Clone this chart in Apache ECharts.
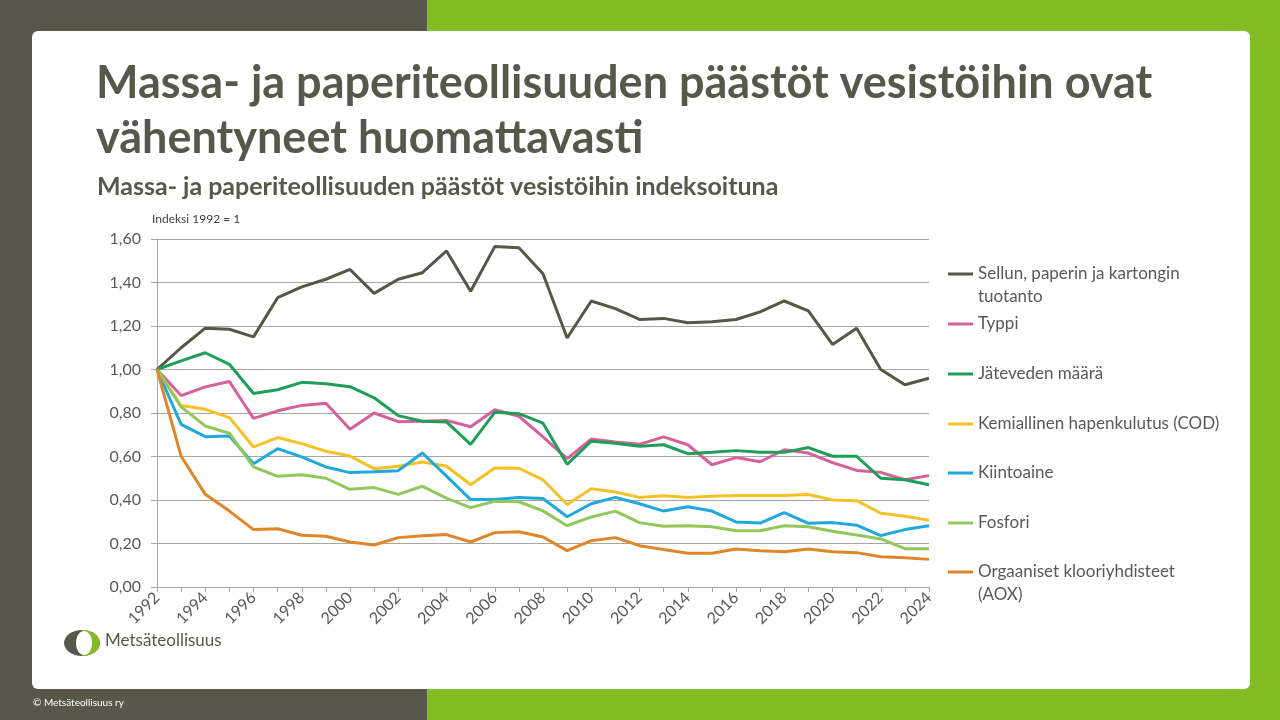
<!DOCTYPE html>
<html>
<head>
<meta charset="utf-8">
<script src="https://cdn.jsdelivr.net/npm/echarts@6/dist/echarts.min.js"></script>
<style>
html,body{margin:0;padding:0;width:1280px;height:720px;overflow:hidden;}
#c{width:1280px;height:720px;}
</style>
</head>
<body>
<div id="c"></div>
<script>
const years = ['1992','1993','1994','1995','1996','1997','1998','1999','2000','2001','2002','2003','2004','2005','2006','2007','2008','2009','2010','2011','2012','2013','2014','2015','2016','2017','2018','2019','2020','2021','2022','2023','2024'];
const seriesNames = ['Sellun, paperin ja kartongin tuotanto','Typpi','Jäteveden määrä','Kemiallinen hapenkulutus (COD)','Kiintoaine','Fosfori','Orgaaniset klooriyhdisteet (AOX)'];
const tuotanto = [1.00,1.10,1.19,1.185,1.15,1.33,1.38,1.415,1.46,1.35,1.415,1.445,1.545,1.36,1.565,1.56,1.44,1.145,1.315,1.28,1.23,1.235,1.215,1.22,1.23,1.265,1.315,1.27,1.115,1.19,1.00,0.93,0.96];
const typpi = [1.00,0.88,0.92,0.945,0.775,0.81,0.835,0.845,0.725,0.80,0.76,0.762,0.766,0.737,0.815,0.785,0.69,0.59,0.68,0.667,0.656,0.69,0.654,0.562,0.595,0.576,0.631,0.616,0.572,0.536,0.527,0.493,0.512];
const jatevesi = [1.00,1.04,1.077,1.024,0.89,0.907,0.941,0.935,0.921,0.87,0.788,0.762,0.759,0.656,0.803,0.797,0.753,0.564,0.67,0.661,0.647,0.654,0.613,0.619,0.627,0.619,0.619,0.641,0.601,0.601,0.50,0.493,0.47];
const cod = [1.00,0.834,0.817,0.779,0.644,0.687,0.659,0.624,0.602,0.544,0.555,0.575,0.555,0.47,0.547,0.546,0.493,0.379,0.452,0.437,0.412,0.42,0.411,0.417,0.421,0.421,0.421,0.425,0.40,0.397,0.339,0.325,0.307];
const kiintoaine = [1.00,0.748,0.691,0.694,0.567,0.636,0.598,0.552,0.526,0.53,0.535,0.616,0.51,0.402,0.402,0.411,0.407,0.323,0.383,0.412,0.383,0.349,0.369,0.349,0.299,0.294,0.342,0.293,0.296,0.284,0.236,0.264,0.282];
const fosfori = [1.00,0.828,0.74,0.707,0.552,0.509,0.516,0.50,0.449,0.457,0.426,0.463,0.409,0.365,0.394,0.392,0.35,0.282,0.322,0.349,0.296,0.279,0.282,0.277,0.259,0.259,0.282,0.277,0.256,0.239,0.221,0.176,0.176];
const aox = [1.00,0.601,0.426,0.349,0.264,0.268,0.238,0.233,0.207,0.193,0.227,0.236,0.241,0.207,0.25,0.254,0.23,0.167,0.213,0.227,0.19,0.172,0.155,0.155,0.175,0.167,0.162,0.175,0.162,0.158,0.139,0.135,0.127];
const yTicks = [0,0.2,0.4,0.6,0.8,1.0,1.2,1.4,1.6];

const allData = [tuotanto,typpi,jatevesi,cod,kiintoaine,fosfori,aox];
const colors = ['#575748','#D6609B','#1F9E57','#F4C226','#1FA8DC','#92C85A','#E0862A'];
const legendCenters = [274,324,374,424,473,523,572];
const twoLine = [true,false,false,false,false,false,true];
const FONT = 'Lato, "Open Sans", sans-serif';
const TXT = '#595959';

const chart = echarts.init(document.getElementById('c'), null, {renderer:'canvas'});

const legends = seriesNames.map((n,i)=>{
  const lh = 23;
  const two = twoLine[i];
  return {
    data:[n], orient:'vertical', left:948,
    top: two ? legendCenters[i]-34.5 : legendCenters[i]-11.5,
    padding:0, itemWidth:25, itemHeight:3, itemGap:0, icon:'rect',
    formatter: function(name){
      if(name==='Sellun, paperin ja kartongin tuotanto') return ' \nSellun, paperin ja kartongin\ntuotanto';
      if(name==='Orgaaniset klooriyhdisteet (AOX)') return ' \nOrgaaniset klooriyhdisteet\n(AOX)';
      return name;
    },
    textStyle:{color:TXT,fontSize:17,fontFamily:FONT,lineHeight:lh}
  };
});

const option = {
  animation:false,
  backgroundColor:'#ffffff',
  graphic:[
    {type:'rect',z:-10,silent:true,shape:{x:0,y:0,width:427,height:720},style:{fill:'#58584A'}},
    {type:'rect',z:-10,silent:true,shape:{x:427,y:0,width:853,height:720},style:{fill:'#84BC26'}},
    {type:'rect',z:-9,silent:true,shape:{x:32,y:31,width:1218,height:658,r:6},style:{fill:'#ffffff'}},
    {type:'ellipse',z:-8,silent:true,shape:{cx:82,cy:643,rx:18,ry:13},style:{fill:'#58584A'}},
    {type:'sector',z:-8,silent:true,shape:{cx:82,cy:643,r0:0,r:13,startAngle:-Math.PI/2,endAngle:Math.PI/2},scaleX:1.38,originX:82,originY:643,style:{fill:'#84BC26'}},
    {type:'ellipse',z:-7,silent:true,shape:{cx:84,cy:643,rx:8,ry:12},style:{fill:'#ffffff'}},
    {type:'text',z:-7,silent:true,left:105,top:632,style:{text:'Metsäteollisuus',fill:'#58584A',font:'17px '+FONT}}
  ],
  title:[
    {text:'Massa- ja paperiteollisuuden päästöt vesistöihin ovat\nvähentyneet huomattavasti',left:96,top:56,padding:0,
      textStyle:{color:'#58584A',fontSize:45,fontWeight:'bold',fontFamily:FONT,lineHeight:55}},
    {text:'Massa- ja paperiteollisuuden päästöt vesistöihin indeksoituna',left:97,top:174,padding:0,
      textStyle:{color:'#58584A',fontSize:25,fontWeight:'bold',fontFamily:FONT}},
    {text:'Indeksi 1992 = 1',left:152,top:213,padding:0,
      textStyle:{color:'#404040',fontSize:12,fontWeight:'normal',fontFamily:FONT}},
    {text:'© Metsäteollisuus ry',left:33,top:698,padding:0,
      textStyle:{color:'#ffffff',fontSize:10,fontWeight:'normal',fontFamily:FONT}}
  ],
  legend:legends,
  grid:{left:157,right:351,top:239,bottom:133,containLabel:false},
  xAxis:{
    type:'category',data:years,boundaryGap:false,
    axisLine:{lineStyle:{color:'#A6A6A6',width:1}},
    axisTick:{show:true,interval:0,length:5,lineStyle:{color:'#A6A6A6'}},
    axisLabel:{interval:1,rotate:45,color:TXT,fontSize:16,fontFamily:FONT,margin:8},
    splitLine:{show:false}
  },
  yAxis:{
    type:'value',min:yTicks[0],max:yTicks[yTicks.length-1],interval:0.2,
    axisLine:{show:true,lineStyle:{color:'#A6A6A6',width:1}},
    axisTick:{show:true,length:6,lineStyle:{color:'#A6A6A6'}},
    axisLabel:{color:TXT,fontSize:16,fontFamily:FONT,margin:16,formatter:v=>v.toFixed(2).replace('.',',')},
    splitLine:{show:true,lineStyle:{color:'#A6A6A6',width:1}}
  },
  series:seriesNames.map((n,i)=>({
    name:n,type:'line',data:allData[i],showSymbol:false,symbol:'none',
    lineStyle:{color:colors[i],width:3},itemStyle:{color:colors[i]},
    emphasis:{disabled:true}
  }))
};
chart.setOption(option);
</script>
</body>
</html>
